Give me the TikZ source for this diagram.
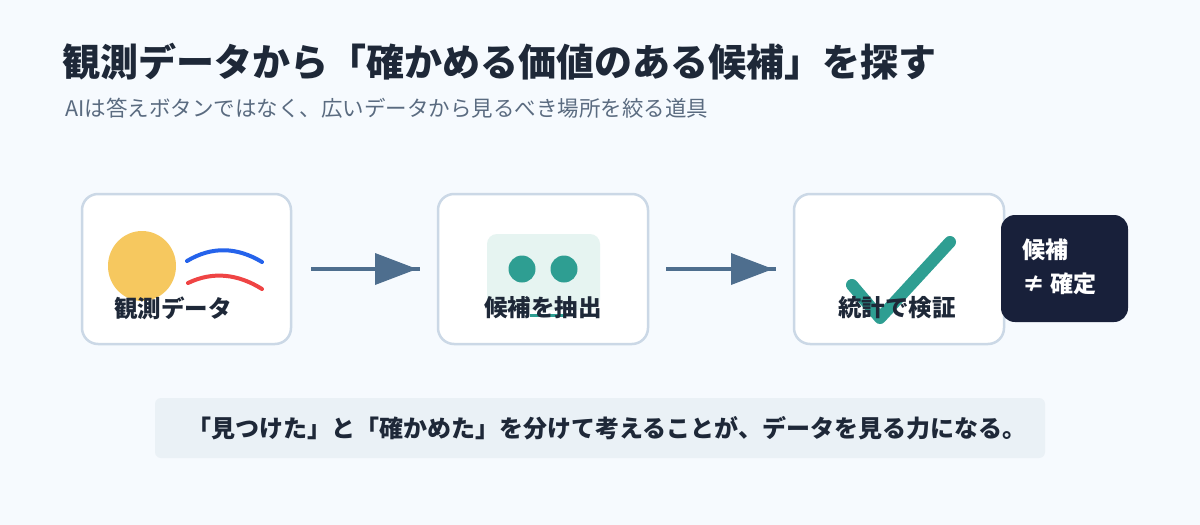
\documentclass[tikz,border=0pt]{standalone}
\usepackage{fontspec}
\setmainfont{Noto Sans CJK JP}
\definecolor{bg}{HTML}{F6FAFE}
\definecolor{bd}{HTML}{CBD8E6}
\definecolor{ink}{HTML}{1E2838}
\definecolor{sub}{HTML}{5A6B80}
\definecolor{arr}{HTML}{4E6E8E}
\definecolor{teal}{HTML}{2E9E92}
\definecolor{mint}{HTML}{E6F4F1}
\definecolor{sun}{HTML}{F6C85F}
\definecolor{bl}{HTML}{2563EB}
\definecolor{rd}{HTML}{EF4444}
\definecolor{dark}{HTML}{18203A}
\definecolor{note}{HTML}{EAF1F6}
\tikzset{
  card/.style={draw=bd,line width=2.5pt,fill=white,rounded corners=16pt},
  lbl/.style={font=\bfseries\fontsize{23.5}{26}\selectfont,text=ink},
  flow/.style={draw=arr,line width=4pt},
}
\begin{document}
\begin{tikzpicture}[x=1pt,y=-1pt]
\fill[bg] (0,0) rectangle (1200,525);
\useasboundingbox (0,0) rectangle (1200,525);
\node[anchor=west,font=\bfseries\fontsize{38}{42}\selectfont,text=ink] (title) at (59,62) {観測データから「確かめる価値のある候補」を探す};
\node[anchor=west,font=\fontsize{21.5}{24}\selectfont,text=sub] (subt) at (62,108) {AIは答えボタンではなく、広いデータから見るべき場所を絞る道具};
% cards
\draw[card] (82,194) rectangle (291,344);
\draw[card] (438,194) rectangle (648,344);
\draw[card] (794,194) rectangle (1004,344);
% card1
\fill[sun] (142,266) ellipse (34 and 35);
\draw[bl,line width=4pt,line cap=round] (187,261) .. controls (212,246) and (237,247) .. (262,262);
\draw[rd,line width=4pt,line cap=round] (188,283) .. controls (213,271) and (238,274) .. (262,289);
\node[lbl] (l1) at (173,308) {観測データ};
% card2
\fill[mint,rounded corners=10pt] (487,234) rectangle (600,310);
\fill[teal] (522,269) circle (13.5);
\fill[teal] (564,269) circle (13.5);
\draw[teal,line width=3pt] (530,315) -- (565,315);
\node[lbl] (l2) at (543,308) {候補を抽出};
% card3
\draw[teal,line width=12pt,line cap=round,line join=round] (852,285) -- (880,318) -- (950,242);
\node[lbl] (l3) at (897,308) {統計で検証};
% arrows
\coordinate (a1s) at (311,269);
\draw[flow] (a1s) -- (420,269);
\fill[arr] (375,253) -- (417,269) -- (375,285) -- cycle;
\coordinate (a2s) at (666,269);
\draw[flow] (a2s) -- (776,269);
\fill[arr] (731,253) -- (773,269) -- (731,285) -- cycle;
% dark box
\fill[dark,rounded corners=14pt] (1001,215) rectangle (1128,322);
\node[anchor=west,font=\bfseries\fontsize{23}{26}\selectfont,text=white] (d1) at (1019,250) {候補};
\node[anchor=west,font=\bfseries\fontsize{23}{26}\selectfont,text=white] (d2) at (1019,284) {≠ 確定};
% note
\fill[note,rounded corners=6pt] (155,398) rectangle (1045,458);
\node[font=\bfseries\fontsize{24}{28}\selectfont,text=ink] (nt) at (607,428) {「見つけた」と「確かめた」を分けて考えることが、データを見る力になる。};
\end{tikzpicture}
\end{document}
